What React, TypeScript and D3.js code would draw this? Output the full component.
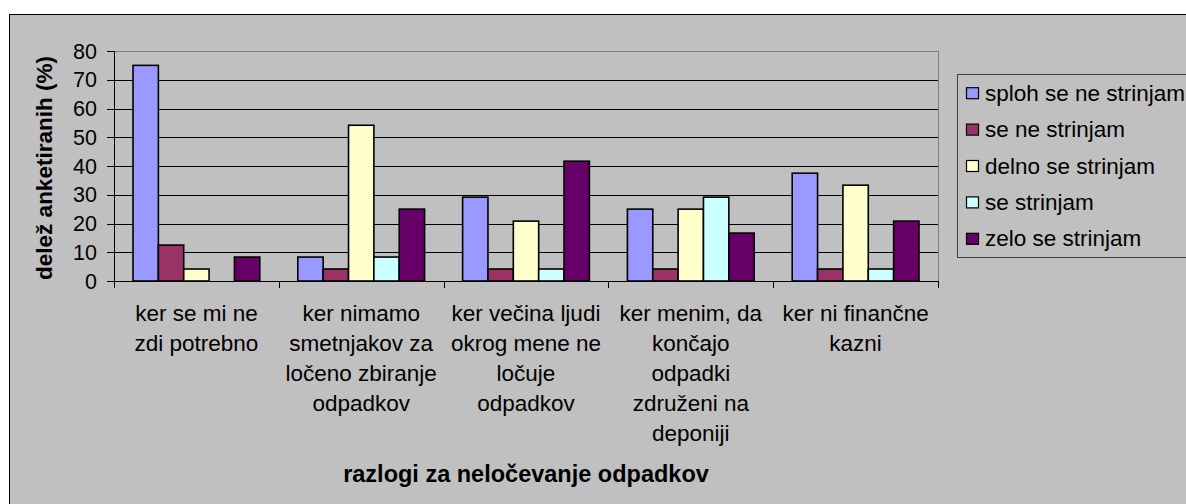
import React from 'react';
import * as d3 from 'd3';

// reasons (x categories), each label already split into lines
const categories = [
    ['ker se mi ne', 'zdi potrebno'],
    ['ker nimamo', 'smetnjakov za', 'ločeno zbiranje', 'odpadkov'],
    ['ker večina ljudi', 'okrog mene ne', 'ločuje', 'odpadkov'],
    ['ker menim, da', 'končajo', 'odpadki', 'združeni na', 'deponiji'],
    ['ker ni finančne', 'kazni'],
];

const seriesNames = ['sploh se ne strinjam', 'se ne strinjam', 'delno se strinjam', 'se strinjam', 'zelo se strinjam'];
const seriesColors = ['#9999FF', '#993366', '#FFFFCC', '#CCFFFF', '#660066'];

// % of respondents, one array per series, in category order
const splohSeNe = [75.0, 8.33, 29.17, 25.0, 37.5];
const seNe = [12.5, 4.17, 4.17, 4.17, 4.17];
const delno = [4.17, 54.17, 20.83, 25.0, 33.33];
const seStrinjam = [0, 8.33, 4.17, 29.17, 4.17];
const zelo = [8.33, 25.0, 41.67, 16.67, 20.83];

const yTicks = [0, 10, 20, 30, 40, 50, 60, 70, 80];

const W = 1186;
const H = 504;
const plot = { left: 114, right: 938, top: 51, bottom: 281 };
const font = 'Arial, "Liberation Sans", sans-serif';

const App = () => {
    const values = [splohSeNe, seNe, delno, seStrinjam, zelo];

    const x = d3.scaleBand<number>()
        .domain(d3.range(categories.length))
        .range([plot.left, plot.right])
        .padding(0);

    // 5 bars per group, gap of 1.5 bar widths between groups
    const xInner = d3.scaleBand<number>()
        .domain(d3.range(seriesNames.length))
        .range([0, x.bandwidth()])
        .paddingInner(0)
        .paddingOuter(0.75);

    const y = d3.scaleLinear().domain([0, 80]).range([plot.bottom, plot.top]);

    const boundaries = d3.range(categories.length + 1).map(i => plot.left + i * x.step());

    return (
        <svg width={W} height={H} style={{ position: 'absolute', left: 0, top: 0, display: 'block' }}
            fontFamily={font}>
            <rect x={0} y={0} width={W} height={H} fill="#ffffff" />
            {/* chart area */}
            <rect x={9.5} y={14.5} width={W + 20} height={H + 20} fill="#C0C0C0" stroke="#000" strokeWidth={1} />

            {/* gridlines */}
            {yTicks.filter(t => t > 0 && t < 80).map(t => (
                <line key={t} x1={plot.left} x2={plot.right} y1={Math.round(y(t)) + 0.5} y2={Math.round(y(t)) + 0.5}
                    stroke="#000" strokeWidth={1} />
            ))}
            {/* plot area border */}
            <rect x={plot.left + 0.5} y={plot.top + 0.5} width={plot.right - plot.left} height={plot.bottom - plot.top}
                fill="none" stroke="#808080" strokeWidth={1} />

            {/* bars */}
            {values.map((series, s) => series.map((v, c) => {
                if (v <= 0) return null;
                const bx = (x(c) as number) + (xInner(s) as number);
                return (
                    <rect key={`${s}-${c}`} x={bx} y={y(v)} width={xInner.bandwidth()} height={y(0) - y(v)}
                        fill={seriesColors[s]} stroke="#000" strokeWidth={1.6} />
                );
            }))}

            {/* y axis */}
            <line x1={plot.left + 0.5} x2={plot.left + 0.5} y1={plot.top} y2={plot.bottom} stroke="#000" />
            {yTicks.map(t => (
                <g key={t}>
                    <line x1={plot.left - 7} x2={plot.left} y1={Math.round(y(t)) + 0.5} y2={Math.round(y(t)) + 0.5} stroke="#000" />
                    <text x={97} y={y(t)} dy="0.36em" textAnchor="end" fontSize={21.5} fill="#000">{t}</text>
                </g>
            ))}

            {/* x axis */}
            <line x1={plot.left} x2={plot.right + 1} y1={plot.bottom + 0.5} y2={plot.bottom + 0.5} stroke="#000" />
            {boundaries.map((bx, i) => (
                <line key={i} x1={Math.round(bx) + 0.5} x2={Math.round(bx) + 0.5} y1={plot.bottom} y2={plot.bottom + 7} stroke="#000" />
            ))}
            {categories.map((lines, c) => (
                <text key={c} x={(x(c) as number) + x.bandwidth() / 2} y={321} textAnchor="middle" fontSize={22.5} fill="#000">
                    {lines.map((ln, k) => (
                        <tspan key={k} x={(x(c) as number) + x.bandwidth() / 2} y={321 + k * 30}>{ln}</tspan>
                    ))}
                </text>
            ))}

            {/* axis titles */}
            <text x={526} y={482} textAnchor="middle" fontSize={23.5} fontWeight="bold" fill="#000">
                razlogi za neločevanje odpadkov
            </text>
            <text transform={`translate(52,${(plot.top + plot.bottom) / 2 + 2}) rotate(-90)`} textAnchor="middle"
                fontSize={22.5} fontWeight="bold" fill="#000">
                delež anketiranih (%)
            </text>

            {/* legend */}
            <rect x={957.5} y={74.5} width={260} height={183} fill="#C0C0C0" stroke="#404040" strokeWidth={1} />
            {seriesNames.map((name, s) => {
                const cy = 92.7 + s * 36.4;
                return (
                    <g key={name}>
                        <rect x={966.5} y={cy - 5} width={12} height={11} fill={seriesColors[s]} stroke="#000" strokeWidth={1.2} />
                        <text x={985} y={cy} dy="0.36em" fontSize={22.5} fill="#000">{name}</text>
                    </g>
                );
            })}
        </svg>
    );
};

export default App;
